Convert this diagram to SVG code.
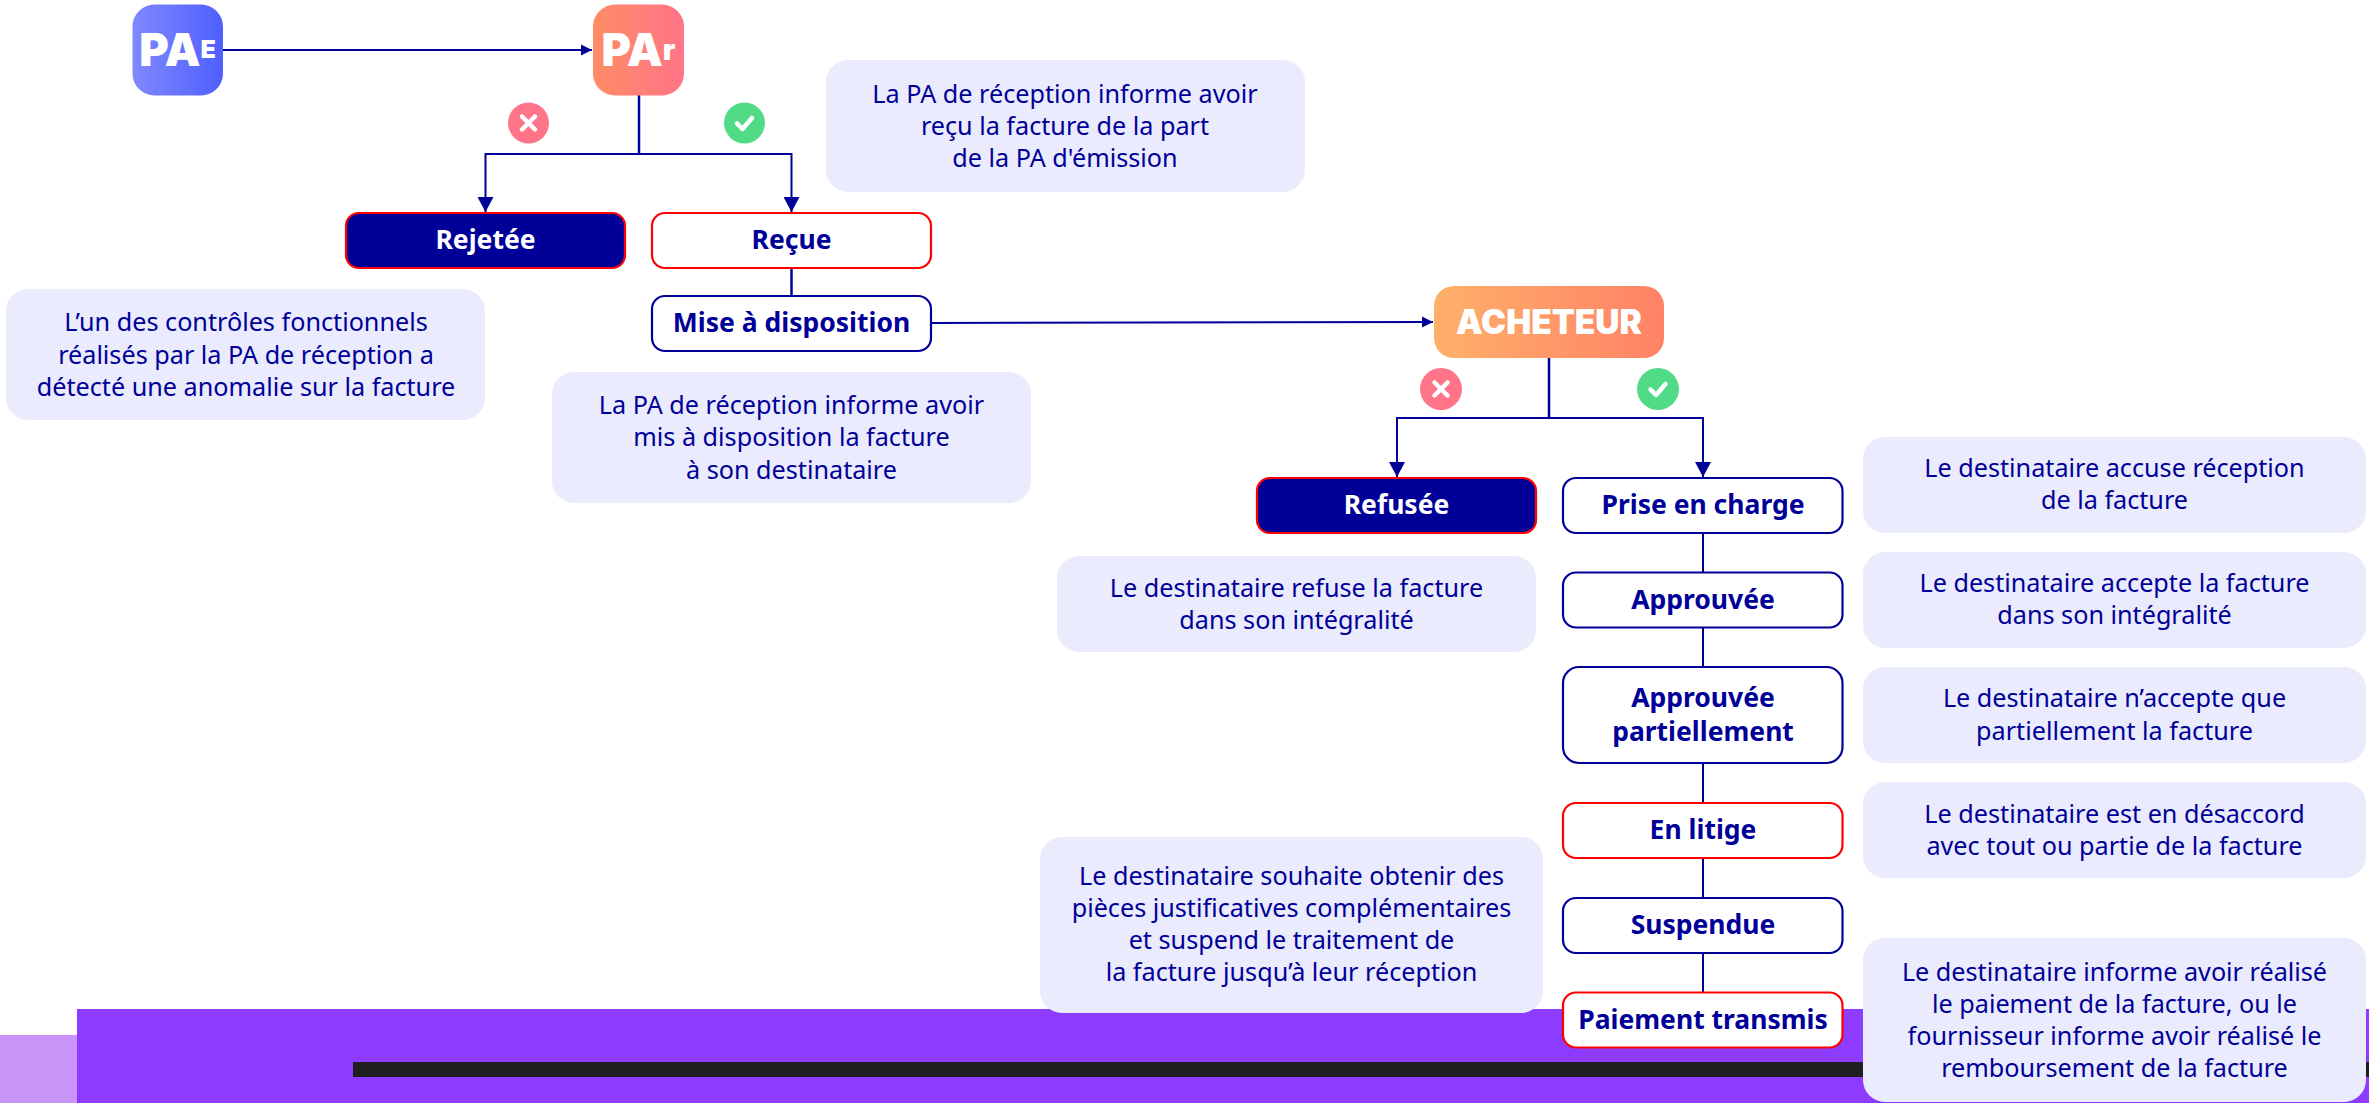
<svg xmlns="http://www.w3.org/2000/svg" width="2369" height="1103" viewBox="0 0 2369 1103">
<style>
text{font-family:"Noto Sans","Open Sans",sans-serif;text-anchor:middle;dominant-baseline:central}
.note rect{fill:#EAEBFC}
.note text{font-size:25.200px;fill:#000099;font-weight:400}
.box rect{stroke-width:2.2;fill:#fff;stroke:#000099}
.box.red rect{stroke:#FF0000}
.box.dark rect{stroke:#FF0000;fill:#000099}
.box text{font-size:26.500px;font-weight:700;fill:#000099}
.box.dark text{fill:#fff}
.head text{font-family:Inter,"Noto Sans",sans-serif;font-weight:900;fill:#fff}
.line{fill:none;stroke:#000099;stroke-width:2.5}
.thin{fill:none;stroke:#000099;stroke-width:2}
.ic{fill:none;stroke:#fff;stroke-width:4.500;stroke-linecap:round;stroke-linejoin:round}
</style>
<defs>
<linearGradient id="gE"><stop offset="0" stop-color="#8089FF"/><stop offset="1" stop-color="#4F5FFF"/></linearGradient>
<linearGradient id="gR"><stop offset="0" stop-color="#FF8C66"/><stop offset="1" stop-color="#FF7488"/></linearGradient>
<linearGradient id="gA"><stop offset="0" stop-color="#FFB06A"/><stop offset="1" stop-color="#FF8266"/></linearGradient>
<marker id="big" markerUnits="userSpaceOnUse" markerWidth="16" markerHeight="16" refX="15" refY="8" orient="auto"><path d="M0 0L15 8L0 16Z" fill="#000099"/></marker>
<marker id="small" markerUnits="userSpaceOnUse" markerWidth="12" markerHeight="12" refX="11" refY="6" orient="auto"><path d="M0 .5L11 6L0 11.500Z" fill="#000099"/></marker>
</defs>
<g id="background">
<rect x="0" y="1035" width="78" height="68" fill="#C994F8"/>
<rect x="77" y="1009" width="2292" height="94" fill="#8C3BFF"/>
<rect x="353" y="1062" width="2016" height="15" fill="#1E1E1E"/>
</g>
<g id="connectors">
<path class="thin" d="M223 50H592" marker-end="url(#small)"/>
<path class="line" d="M639 95V154"/>
<path class="thin" d="M639 154H485.500V212" marker-end="url(#big)"/>
<path class="thin" d="M639 154H791.500V212" marker-end="url(#big)"/>
<path class="line" d="M791.500 268V296"/>
<path class="thin" d="M932 323L1433 322" marker-end="url(#small)"/>
<path class="line" d="M1549 358V418"/>
<path class="thin" d="M1549 418H1397V477" marker-end="url(#big)"/>
<path class="thin" d="M1549 418H1703V477" marker-end="url(#big)"/>
<path class="thin" d="M1703 533V572M1703 627V666M1703 763V802M1703 858V897M1703 953V992"/>
</g>
<g id="pa-e" class="head"><rect x="132.500" y="4.500" width="90.500" height="91" rx="22" fill="url(#gE)"/><text x="177.500" y="49" font-size="45">PA<tspan font-size="25">E</tspan></text></g>
<g id="pa-r" class="head"><rect x="593" y="4.500" width="91" height="91" rx="22" fill="url(#gR)"/><text x="638.500" y="49" font-size="45">PA<tspan font-size="29">r</tspan></text></g>
<g id="acheteur" class="head"><rect x="1434" y="286" width="230" height="72" rx="20" fill="url(#gA)"/><text x="1549" y="322" font-size="33.500">ACHETEUR</text></g>
<g id="icon-no-1"><circle cx="528.500" cy="123" r="20.500" fill="#FF7488"/><path class="ic" d="M522 116.500L535 129.500M535 116.500L522 129.500"/></g>
<g id="icon-yes-1"><circle cx="744.500" cy="123" r="20.500" fill="#52DB87"/><path class="ic" d="M737 123.500L742.500 129L752 118"/></g>
<g id="icon-no-2"><circle cx="1441" cy="389" r="21" fill="#FF7488"/><path class="ic" d="M1434.500 382.500L1447.500 395.500M1447.500 382.500L1434.500 395.500"/></g>
<g id="icon-yes-2"><circle cx="1658" cy="389" r="21" fill="#52DB87"/><path class="ic" d="M1650.500 389.500L1656 395L1665.500 384"/></g>
<g id="rejetee" class="box dark"><rect x="346" y="213" width="279" height="55" rx="13"/><text x="485.500" y="239">Rejetée</text></g>
<g id="recue" class="box red"><rect x="652" y="213" width="279" height="55" rx="13"/><text x="791.500" y="239">Reçue</text></g>
<g id="mise" class="box"><rect x="652" y="296" width="279" height="55" rx="13"/><text x="791.500" y="322">Mise à disposition</text></g>
<g id="refusee" class="box dark"><rect x="1257" y="478" width="279" height="55" rx="13"/><text x="1396.500" y="504">Refusée</text></g>
<g id="prise" class="box"><rect x="1563" y="478" width="279.500" height="55" rx="13"/><text x="1703" y="504">Prise en charge</text></g>
<g id="approuvee" class="box"><rect x="1563" y="572.500" width="279.500" height="55" rx="13"/><text x="1703" y="599">Approuvée</text></g>
<g id="approuvee-part" class="box"><rect x="1563" y="667" width="279.500" height="96" rx="16"/><text x="1703" y="697">Approuvée</text><text x="1703" y="731">partiellement</text></g>
<g id="litige" class="box red"><rect x="1563" y="803" width="279.500" height="55" rx="13"/><text x="1703" y="829">En litige</text></g>
<g id="suspendue" class="box"><rect x="1563" y="898" width="279.500" height="55" rx="13"/><text x="1703" y="924">Suspendue</text></g>
<g id="paiement" class="box red"><rect x="1563" y="992.500" width="279.500" height="55" rx="13"/><text x="1703" y="1019">Paiement transmis</text></g>
<g id="note-recue" class="note"><rect x="826" y="60" width="479" height="132" rx="22"/><text x="1065" y="93">La PA de réception informe avoir</text><text x="1065" y="125">reçu la facture de la part</text><text x="1065" y="157">de la PA d'émission</text></g>
<g id="note-rejetee" class="note"><rect x="6" y="289" width="479" height="131" rx="22"/><text x="246" y="321">L’un des contrôles fonctionnels</text><text x="246" y="354">réalisés par la PA de réception a</text><text x="246" y="386">détecté une anomalie sur la facture</text></g>
<g id="note-mise" class="note"><rect x="552" y="372" width="479" height="131" rx="22"/><text x="791.500" y="404">La PA de réception informe avoir</text><text x="791.500" y="436">mis à disposition la facture</text><text x="791.500" y="469">à son destinataire</text></g>
<g id="note-refusee" class="note"><rect x="1057" y="556" width="479" height="96" rx="22"/><text x="1296.500" y="587">Le destinataire refuse la facture</text><text x="1296.500" y="619">dans son intégralité</text></g>
<g id="note-prise" class="note"><rect x="1863" y="437" width="503" height="96" rx="22"/><text x="2114.500" y="467">Le destinataire accuse réception</text><text x="2114.500" y="499">de la facture</text></g>
<g id="note-approuvee" class="note"><rect x="1863" y="552" width="503" height="96" rx="22"/><text x="2114.500" y="582">Le destinataire accepte la facture</text><text x="2114.500" y="614">dans son intégralité</text></g>
<g id="note-partiel" class="note"><rect x="1863" y="667" width="503" height="96" rx="22"/><text x="2114.500" y="697">Le destinataire n’accepte que</text><text x="2114.500" y="730">partiellement la facture</text></g>
<g id="note-litige" class="note"><rect x="1863" y="782" width="503" height="96" rx="22"/><text x="2114.500" y="813">Le destinataire est en désaccord</text><text x="2114.500" y="845">avec tout ou partie de la facture</text></g>
<g id="note-suspendue" class="note"><rect x="1040" y="837" width="503" height="176" rx="22"/><text x="1291.500" y="875">Le destinataire souhaite obtenir des</text><text x="1291.500" y="907">pièces justificatives complémentaires</text><text x="1291.500" y="939">et suspend le traitement de</text><text x="1291.500" y="971">la facture jusqu’à leur réception</text></g>
<g id="note-paiement" class="note"><rect x="1863" y="938" width="503" height="164" rx="22"/><text x="2114.500" y="971">Le destinataire informe avoir réalisé</text><text x="2114.500" y="1003">le paiement de la facture, ou le</text><text x="2114.500" y="1035">fournisseur informe avoir réalisé le</text><text x="2114.500" y="1067">remboursement de la facture</text></g>
</svg>
